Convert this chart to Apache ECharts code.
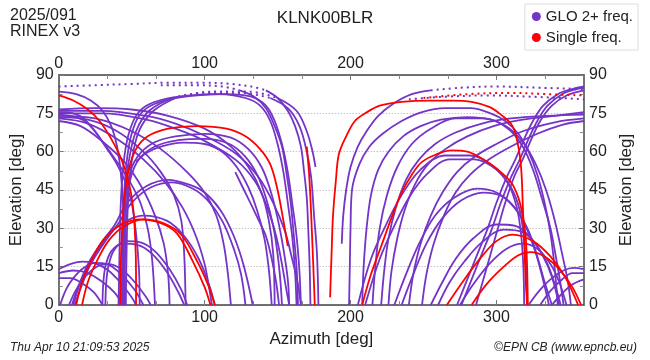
<!DOCTYPE html>
<html><head><meta charset="utf-8">
<script src="https://cdn.jsdelivr.net/npm/echarts@6/dist/echarts.min.js"></script>
<style>html,body{margin:0;padding:0;background:#fff}#c{width:650px;height:360px}</style>
</head><body><div id="c"></div>
<script>
// ---- tick labels ----
const xLabels = [0, 100, 200, 300];
const yLabels = [0, 15, 30, 45, 60, 75, 90];

// ---- GLO 2+ freq. tracks (azimuth, elevation) ----
const gA1 = [[41,0],[41.5,15],[42,30],[43,45],[45,58],[48,67],[53,74],[60,78],[72,80.5],[90,82],[110,82.5],[128,81],[138,78],[145,72],[150,63],[154,52],[157,40],[160,27],[162,13],[163,0]];
const gA2 = [[43,0],[43.5,15],[44,30],[45,45],[47,58],[50,67],[55,74],[63,78],[76,80.5],[95,82],[115,82.5],[132,81.5],[142,78],[148,72],[153,63],[157,52],[160,40],[163,27],[165,13],[166,0]];
const gA3r = [[44,0],[44.5,20],[45.5,40],[48,56],[53,68],[62,76],[78,81]];
const gA3t = [[78,81],[100,83],[125,83],[145,81]];
const gA3d = [[145,81],[157,77],[165,70],[170,60],[173,50],[175,35],[177,20],[178,0]];
const gA4r = [[46,0],[46.5,20],[47.5,40],[50,56],[55,68],[65,76],[82,81.5]];
const gA4t = [[82,81.5],[105,83.5],[130,83.5],[150,81]];
const gA4d = [[150,81],[163,76],[170,68],[174,60],[176,54]];
const gD2 = [[0,83.5],[12,82.5],[22,80],[30,76],[36,70],[40,62],[42.5,52],[44,40],[44.5,25],[45,10],[45,0]];
const gT1 = [[53,56],[60,59.5],[70,62],[85,63.5],[100,63],[112,60],[122,54],[130,46],[136,37],[141,26],[144,14],[146,0]];
const gT2 = [[44,0],[44.5,20],[45.5,38],[48,50],[54,58],[65,63.5],[80,66],[100,67],[118,65.5],[130,61],[139,54],[145,45],[150,34],[154,22],[157,10],[158,0]];
const gT3 = [[45,0],[45.5,20],[46.5,38],[49,49],[55,57],[66,62],[82,64.5],[100,65],[117,63],[128,58],[136,51],[142,42],[147,31],[150,20],[152,9],[153,0]];
const gS1 = [[121,52],[127,45],[133,38],[138,32],[142,27],[146,18],[149,9],[151,0]];
const gB1 = [[0,76],[30,76],[60,74],[80,71],[99,66.5],[122,59],[137,50],[147,40],[155,29],[160,18],[164,8],[166,0]];
const gB2 = [[0,75],[30,75],[60,72.5],[80,69],[99,64.5],[122,56.5],[135,48],[143,38],[149,27],[153,16],[156,6],[158,0]];
const gB3 = [[0,74],[25,73],[50,68],[70,61],[88,52],[100,44],[108,35],[113,24],[116,12],[118,0]];
const gB4 = [[0,73],[20,71],[40,65],[58,57],[73,48],[85,38],[94,27],[100,16],[103,7],[105,0]];
const gB5 = [[0,72],[15,70],[30,64],[45,56],[57,46],[66,35],[72,24],[75,12],[76,0]];
const gB6 = [[0,75.5],[10,75],[17,73],[25,68],[32,62],[39,56],[45,49],[50,40],[53,28],[55,14],[55.5,0]];
const gB7 = [[0,74.5],[12,73.5],[20,71],[30,64],[40,56],[49,48],[56,40],[61,30],[64,18],[66,0]];
const gB8 = [[0,73.5],[20,72.5],[40,68],[58,60],[70,52],[79,43],[84,33],[86,20],[87,0]];
const gB9 = [[0,76.5],[25,77],[50,76.5],[75,74],[100,69],[118,62],[130,54],[139,44],[144,33],[147,20],[148,0]];
const gL1 = [[0,14],[8,16],[16,17],[24,16.5],[33,14],[42,9],[50,3],[53,0]];
const gL2 = [[0,12.5],[10,13.5],[20,12.5],[30,9],[38,5],[44,0]];
const gL3 = [[0,10.5],[8,10.5],[16,8.5],[24,5],[30,0]];
const gL4 = [[1,0],[5,6],[10,10.5],[17,14.5],[25,16.5],[33,16],[42,12.5],[52,6],[58,0]];
const gL4b = [[7,0],[12,6],[18,11],[26,15],[34,16],[43,14],[52,9],[60,3],[63,0]];
const gL5 = [[30,0],[30.5,8],[32,15],[36,21],[44,24],[54,23.5],[64,20],[74,13],[82,5],[86,0]];
const gL6 = [[32,0],[32.5,8],[34,15],[38,21.5],[46,25],[56,24.5],[66,21],[76,14],[84,6],[88,0]];
const gL7 = [[10,0],[15,9],[22,17],[30,24],[40,30.5],[58,35],[74,33],[86,27],[96,18],[103,8],[107,0]];
const gL8 = [[9,0],[14,8],[20,16],[30,25],[38,31],[47,40],[60,46.5],[75,49],[90,47],[100,44],[111,37],[120,27],[127,15],[133,0]];
const gL9 = [[11,0],[16,8],[22,16],[32,25],[41,32],[50,40],[63,46],[78,48],[92,45.5],[102,41],[112,33],[120,22],[125,12],[128,0]];
const gD1s = [[142,84],[150,81],[157,76],[162,70],[166,62],[168,53],[170,42],[171,30],[172,15],[172.5,0]];
const gM2s = [[124,84],[134,81.5],[142,77],[148,70],[153,62],[156,52],[159,40],[161,28],[163,15],[164,0]];
const gE1 = [[194,24],[195,35],[197,45],[200,54],[205,62],[211,68],[219,74],[230,79],[242,82.5],[255,84]];
const gE2 = [[199,0],[199.5,15],[200,30],[201,45],[206,55],[213,62],[222,67],[235,72],[249,75.5],[265,77],[282,77],[296,75],[306,72],[315,67],[322,60],[328,51],[333,40],[337,28],[340,14],[342,0]];
const gE3 = [[208,0],[209,15],[211,30],[214,43],[219,53],[226,60],[236,66],[248,70],[262,72.5],[280,73.5],[296,72.5],[309,69],[319,63],[327,55],[334,45],[340,33],[345,20],[349,9],[351,0]];
const gE4 = [[221,0],[223,13],[226,26],[231,38],[238,49],[247,57],[258,63],[272,67.5],[290,71],[310,73],[335,74],[360,74.5]];
const gE5 = [[226,0],[228,13],[232,26],[237,37],[244,47],[253,55],[265,61],[280,66],[298,70],[318,72.5],[340,74],[360,75.5]];
const gE6 = [[240,0],[243,12],[248,24],[255,35],[263,44],[273,52],[285,58],[300,63],[318,68],[340,71.5],[360,73]];
const gE7 = [[249,0],[252,12],[257,24],[264,35],[272,44],[282,51],[295,57],[310,62],[328,67],[345,70.5],[360,72]];
const gE8 = [[215,0],[217,15],[220,30],[225,43],[232,54],[242,63],[255,69],[272,73],[292,73],[308,69],[318,62],[325,53],[331,42],[337,30],[341,18],[344,8],[346,0]];
const gF1 = [[273,0],[280,10],[287,20],[294,30],[300,40],[307,50],[313,57],[319,65],[325,72],[332,78],[342,82.5],[352,84.5],[360,85.5]];
const gF2 = [[276,0],[283,10],[290,20],[297,30],[303,40],[310,50],[316,57],[322,65],[328,72],[335,78],[345,82.5],[355,84.5],[360,85]];
const gF3 = [[286,0],[291,10],[296,20],[301,30],[306,40],[312,50],[318,57],[324,65],[330,72],[338,78],[348,82],[360,84]];
const gP1 = [[210,0],[220,18],[230,31],[240,42],[252,51],[268,57],[285,57],[300,53],[310,46],[316,37],[319,25],[320.5,12],[321,0]];
const gP2 = [[205,0],[214,18],[224,31],[235,43],[248,53],[265,58.5],[282,58.5],[297,54.5],[308,47.5],[314,38],[317,27],[318.5,14],[319,0]];
const gH1 = [[230,0],[238,12],[247,24],[258,35],[271,42],[287,45.5],[300,44],[311,39],[319,32],[326,22],[331,12],[336,0]];
const gH2 = [[235,0],[243,12],[252,24],[263,34],[276,41],[291,44],[304,42.5],[314,37],[322,29],[328,19],[333,9],[338,0]];
const gI1 = [[255,0],[263,9],[272,18],[284,26],[300,31.5],[313,31],[324,26],[332,19],[338,11],[343,0]];
const gI2 = [[260,0],[268,9],[278,17],[290,24.5],[305,29.5],[318,28.5],[328,23],[335,16],[340,8],[344,0]];
const gJ1 = [[275,0],[284,8],[295,16],[307,22],[318,24],[328,22],[337,16],[343,9],[348,0]];
const gG1 = [[322,0],[330,6],[338,10.5],[346,13.5],[353,14.5],[360,14]];
const gG2 = [[330,0],[337,5.5],[345,10],[352,12.5],[360,12.5]];
const gG3 = [[338,0],[345,4.5],[352,8],[360,10]];
// near-zenith (sparsely sampled) GLO passes
const gD1d = [[0,85.5],[25,86],[50,86.5],[75,87],[100,87],[118,86.5],[132,85.5],[142,84]];
const gM2d = [[70,86],[95,86],[112,85.5],[124,84]];
const gE1d = [[255,84],[275,85],[300,85.5],[330,85],[360,84.5]];
const gPd = [[240,80.5],[265,81.5],[295,82],[325,81.5],[360,80.5]];

// ---- Single freq. tracks ----
const sR1 = [[0,82],[10,80],[20,76.5],[28,72],[36,65],[43,57],[48,48],[51,38],[52.5,25],[53,12],[53,0]];
const sR2 = [[42,0],[42.5,15],[43.5,30],[45,42],[48,53],[53,61],[61,66],[75,69],[95,70],[115,69],[128,66],[138,61],[145,55],[150,45],[154,33],[157,23]];
const sR3 = [[186,3],[187,20],[188,35],[190,49],[192,59],[197,66],[203,72],[210,75],[220,78],[235,79.5],[255,80],[270,80],[283,79.5],[295,77.5],[303,74.5],[311,70],[315,62],[317,53],[318,40],[319,25],[320,10],[321,0]];
const sR4 = [[208,0],[214,12],[221,23],[228,34],[235,44],[242,51],[249,56],[259,59],[269,60.5],[280,60],[291,57],[301,53],[310,48],[315,42],[318,35],[320,27],[321,15],[321.5,0]];
const sR5a = [[266,0],[278,10],[290,19],[300,25],[311,27.5],[325,25],[337,19],[347,11],[356,0]];
const sR5b = [[283,0],[293,8],[305,15],[315,19.5],[323,20.7],[333,19],[343,14],[352,7],[358,0]];
const sR6 = [[170,62],[171.5,52],[172.5,42],[173.5,29],[174.5,15],[175.5,0]];
const sR8a = [[12,0],[16,9],[22,17],[30,25],[40,30.5],[55,33.5],[70,32],[81,28],[92,17],[100,7],[104,0]];
const sR8b = [[16,0],[20,9],[26,17],[34,25],[44,30.5],[58,33.5],[72,32],[84,27.5],[95,17],[103,7],[107,0]];
const sR10d = [[250,81],[280,82.5],[310,83],[335,82.5],[360,82]];

const gloSolid = [gA1,gA2,gA3r,gA3d,gA4r,gA4d,gD2,gT1,gT2,gT3,gS1,gB1,gB2,gB3,gB4,gB5,gB6,gB7,gB8,gB9,gL1,gL2,gL3,gL4,gL4b,gL5,gL6,gL7,gL8,gL9,gD1s,gM2s,gE1,gE2,gE3,gE4,gE5,gE6,gE7,gE8,gF1,gF2,gF3,gP1,gP2,gH1,gH2,gI1,gI2,gJ1,gG1,gG2,gG3];
const gloDotted = [gD1d,gM2d,gE1d,gPd,gA3t,gA4t];
const singleSolid = [sR1,sR2,sR3,sR4,sR5a,sR5b,sR6,sR8a,sR8b];
const singleDotted = [sR10d];

const PURPLE = '#7434c8', RED = '#ff0000';
const GLO = 'GLO 2+ freq.', SGL = 'Single freq.';

function mk(name, color, tracks, dotted, z) {
  return tracks.map(t => ({
    type: 'line', name: name, data: t, xAxisIndex: 0, yAxisIndex: 0,
    symbol: 'none', showSymbol: false, smooth: 0.35, silent: true, z: z,
    itemStyle: { color: color },
    lineStyle: { color: color, width: dotted ? 2 : 1.8, type: dotted ? [2, 4] : 'solid' }
  }));
}

const FONT = 'Liberation Sans, Arial, sans-serif';
const axisLineStyle = { color: '#444', width: 1.5 };
function xAx(pos) {
  return {
    type: 'value', position: pos, min: 0, max: 360, interval: 100,
    axisLine: { show: true, onZero: false, lineStyle: axisLineStyle },
    axisTick: { show: true, inside: true, length: 5, lineStyle: { color: '#777', width: 1 } },
    minorTick: { show: true, splitNumber: 3, length: 4, lineStyle: { color: '#888', width: 1 } },
    axisLabel: { fontSize: 16, color: '#222', fontFamily: FONT, showMaxLabel: false, margin: pos === 'top' ? 3 : 5 },
    splitLine: { show: false },
    name: pos === 'bottom' ? 'Azimuth [deg]' : '', nameLocation: 'middle', nameGap: 17,
    nameTextStyle: { fontSize: 17, color: '#222', fontFamily: FONT }
  };
}
function yAx(pos) {
  return {
    type: 'value', position: pos, min: 0, max: 90, interval: 15,
    axisLine: { show: true, onZero: false, lineStyle: axisLineStyle },
    axisTick: { show: true, inside: true, length: 5, lineStyle: { color: '#777', width: 1 } },
    minorTick: { show: true, splitNumber: 2, length: 4, lineStyle: { color: '#888', width: 1 } },
    axisLabel: { fontSize: 16, color: '#222', fontFamily: FONT, margin: 5 },
    splitLine: { show: pos === 'left', lineStyle: { color: '#aaa', type: [1, 2], width: 1 } },
    name: 'Elevation [deg]', nameLocation: 'middle', nameRotate: 90,
    nameGap: pos === 'left' ? 26 : 28,
    nameTextStyle: { fontSize: 17, color: '#222', fontFamily: FONT }
  };
}

const chart = echarts.init(document.getElementById('c'), null, { renderer: 'canvas' });
chart.setOption({
  animation: false,
  backgroundColor: '#fff',
  grid: { left: 54, right: 66, top: 75, bottom: 55, containLabel: false },
  title: [
    { text: '2025/091\nRINEX v3', left: 10, top: 8, padding: 0,
      textStyle: { fontSize: 16, fontWeight: 'normal', color: '#222', fontFamily: FONT, lineHeight: 16 } },
    { text: 'KLNK00BLR', left: 'center', top: 10, padding: 0,
      textStyle: { fontSize: 17, fontWeight: 'normal', color: '#222', fontFamily: FONT } },
    { text: 'Thu Apr 10 21:09:53 2025', left: 10, top: 342, padding: 0,
      textStyle: { fontSize: 12, fontWeight: 'normal', fontStyle: 'italic', color: '#222', fontFamily: FONT } },
    { text: '\u00A9EPN CB (www.epncb.eu)', right: 13, top: 342, padding: 0,
      textStyle: { fontSize: 12, fontWeight: 'normal', fontStyle: 'italic', color: '#222', fontFamily: FONT } }
  ],
  legend: {
    data: [GLO, SGL], orient: 'vertical', right: 12, top: 4,
    icon: 'circle', itemWidth: 9, itemHeight: 9, itemGap: 6,
    padding: [5, 5, 5, 7], borderColor: '#ddd', borderWidth: 1, backgroundColor: '#fff',
    textStyle: { fontSize: 15, color: '#222', fontFamily: FONT },
    selectedMode: false
  },
  xAxis: [xAx('bottom'), xAx('top')],
  yAxis: [yAx('left'), yAx('right')],
  series: [].concat(
    mk(GLO, PURPLE, gloSolid, false, 2),
    mk(GLO, PURPLE, gloDotted, true, 2),
    mk(SGL, RED, singleSolid, false, 3),
    mk(SGL, RED, singleDotted, true, 3)
  )
});
</script></body></html>
